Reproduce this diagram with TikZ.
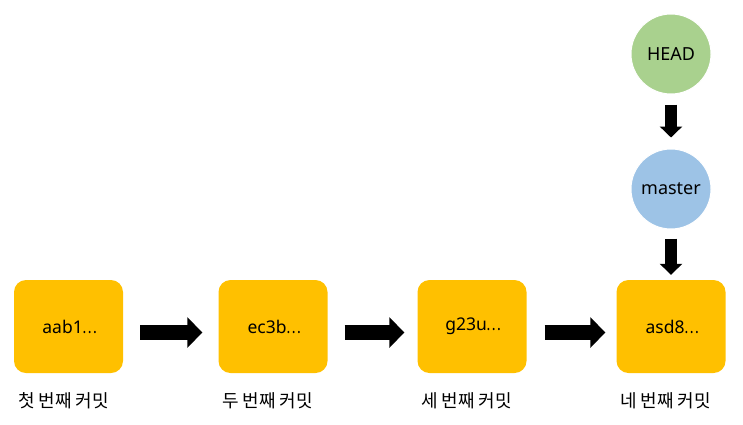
\documentclass[tikz,border=0pt]{standalone}
\usepackage{fontspec}
\usepackage{graphicx}
\setmainfont{Noto Sans}
\newfontfamily\krfont{Noto Sans CJK KR}
\newcommand{\mydots}{\scalebox{0.8}[1]{\krfont ⋯}}
\usetikzlibrary{arrows.meta}
\definecolor{cyellow}{HTML}{FFC000}
\definecolor{cgreen}{HTML}{A9D18E}
\definecolor{cblue}{HTML}{9DC3E6}
\tikzset{
  commit/.style={fill=cyellow, draw=none, rounded corners=12pt, minimum width=109pt, minimum height=93pt, inner sep=0pt, font=\fontsize{17.5pt}{20pt}\selectfont},
  refcirc/.style={circle, draw=white, line width=1pt, minimum size=80pt, inner sep=0pt, font=\fontsize{18pt}{20pt}\selectfont},
  clabel/.style={anchor=west, inner sep=0pt, font=\krfont\fontsize{18pt}{21pt}\selectfont},
  harrow/.style={line width=15pt, -{Triangle[length=15pt,width=30pt]}},
  varrow/.style={line width=12pt, -{Triangle[length=11pt,width=22pt]}}
}
\begin{document}
\begin{tikzpicture}[x=1pt,y=-1pt]
\useasboundingbox (0,0) rectangle (743,424);
\node[commit] (b1) at (68.5,326.5) {\hspace*{3pt}aab1\mydots};
\node[commit] (b2) at (273,326.5) {\hspace*{3pt}ec3b\mydots};
\node[commit] (b3) at (472,326.5) {\hspace*{3pt}g23u\mydots};
\node[commit] (b4) at (671,326.5) {\hspace*{3pt}asd8\mydots};
\node[clabel] (l1) at (18,401) {첫 번째 커밋};
\node[clabel] (l2) at (222,401) {두 번째 커밋};
\node[clabel] (l3) at (421,401) {세 번째 커밋};
\node[clabel] (l4) at (620,401) {네 번째 커밋};
\node[refcirc, fill=cgreen] (head) at (671,54) {HEAD};
\node[refcirc, fill=cblue] (master) at (671,189) {master};
\draw[harrow] ([xshift=17pt,yshift=-6pt]b1.east) -- ([xshift=-16pt,yshift=-6pt]b2.west);
\draw[harrow] ([xshift=17pt,yshift=-6pt]b2.east) -- ([xshift=-13pt,yshift=-6pt]b3.west);
\draw[harrow] ([xshift=18pt,yshift=-6pt]b3.east) -- ([xshift=-11pt,yshift=-6pt]b4.west);
\draw[varrow] ([yshift=-10pt]head.south) -- ([yshift=11pt]master.north);
\draw[varrow] ([yshift=-9pt]master.south) -- ([yshift=5pt]b4.north);
\end{tikzpicture}
\end{document}
